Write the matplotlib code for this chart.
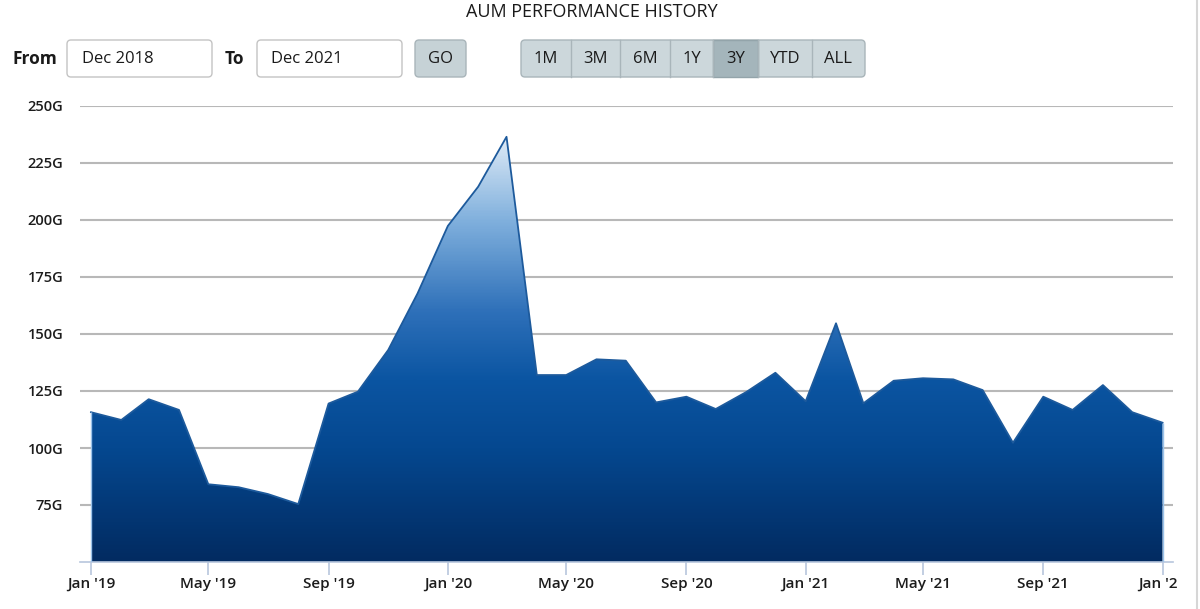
import numpy as np
import pandas as pd
import matplotlib
matplotlib.use("Agg")
import matplotlib.pyplot as plt
import matplotlib.dates as mdates
from matplotlib.patches import FancyBboxPatch, Rectangle
from matplotlib.lines import Line2D
from matplotlib.transforms import IdentityTransform, Bbox
from matplotlib.colors import LinearSegmentedColormap

plt.rcParams['font.family'] = ['Open Sans', 'DejaVu Sans']

# ---------------- data ----------------
months = pd.date_range('2019-01-01', periods=37, freq='MS')
aum_values = [115.7, 112.3, 121.4, 116.7, 84.1, 82.8, 79.8, 75.4, 119.5, 124.7,
              143.0, 167.8, 197.4, 214.6, 236.5, 132.0, 132.0, 138.9, 138.3, 120.0,
              122.5, 117.1, 124.5, 133.0, 120.5, 154.7, 119.6, 129.5, 130.6, 130.1,
              125.4, 102.3, 122.5, 116.7, 127.6, 115.7, 111.1]
y_ticks = [75, 100, 125, 150, 175, 200, 225, 250]
y_tick_labels = ['75G', '100G', '125G', '150G', '175G', '200G', '225G', '250G']
x_tick_dates = ['2019-01-01', '2019-05-01', '2019-09-01', '2020-01-01', '2020-05-01',
                '2020-09-01', '2021-01-01', '2021-05-01', '2021-09-01', '2022-01-01']
x_tick_labels = ["Jan '19", "May '19", "Sep '19", "Jan '20", "May '20",
                 "Sep '20", "Jan '21", "May '21", "Sep '21", "Jan '22"]
title = "AUM PERFORMANCE HISTORY"
from_label, to_label = "From", "To"
from_value, to_value = "Dec 2018", "Dec 2021"
go_label = "GO"
range_buttons = ['1M', '3M', '6M', '1Y', '3Y', 'YTD', 'ALL']
selected_range = '3Y'

W, H = 1200, 609
fig = plt.figure(figsize=(W / 100, H / 100), dpi=100)
fig.patch.set_facecolor('white')

def fx(x):
    return x / W

def fy(y):
    return 1 - y / H

# ---------------- axes ----------------
ax_left, ax_right, ax_top, ax_bottom = 80, 1173, 106, 562
ax = fig.add_axes([fx(ax_left), fy(ax_bottom), (ax_right - ax_left) / W, (ax_bottom - ax_top) / H])
xnum = mdates.date2num(months.to_pydatetime())
vals = np.array(aum_values)
span_days = xnum[-1] - xnum[0]
pad = span_days / (1163 - 91) * 11
ax.set_xlim(xnum[0] - pad, xnum[-1] + pad * 0.95)
ax.set_ylim(50, 250)

for s in ['top', 'right', 'left']:
    ax.spines[s].set_visible(False)
ax.spines['bottom'].set_color('#b7c6dd')
ax.spines['bottom'].set_linewidth(1.2)

ax.set_yticks(y_ticks)
ax.set_yticklabels(y_tick_labels)
ax.yaxis.grid(True, color='#b8b8b8', linewidth=1.5)
ax.set_axisbelow(True)
ax.tick_params(axis='y', length=0, pad=12, labelsize=10.5, labelcolor='#1c1c1c')
tick_pos = mdates.date2num(pd.to_datetime(x_tick_dates).to_pydatetime())
ax.set_xticks(tick_pos)
ax.set_xticklabels(x_tick_labels)
ax.tick_params(axis='x', length=9, width=1.2, color='#b7c6dd', pad=2, labelsize=11,
               labelcolor='#1c1c1c')
for lbl in ax.get_xticklabels() + ax.get_yticklabels():
    lbl.set_fontweight('semibold')
# the last label is cut by the page edge in the original
last = ax.get_xticklabels()[-1]
last.set_clip_box(Bbox.from_extents(0, 0, 1177, H))
last.set_clip_on(True)

# gradient fill
poly = ax.fill_between(xnum, vals, 50, facecolor='none', edgecolor='none', zorder=2)
grad_cmap = LinearSegmentedColormap.from_list('aum', [
    (0.0, '#022b61'),
    (0.25, '#054890'),
    (0.40, '#0b55a2'),
    (0.55, '#2e70b9'),
    (0.75, '#80b0dd'),
    (0.935, '#dfebf7'),
    (1.0, '#ffffff')])
grad = np.linspace(0, 1, 400).reshape(-1, 1)
im = ax.imshow(grad, cmap=grad_cmap, aspect='auto', origin='lower',
               extent=[xnum[0], xnum[-1], 50, 250], zorder=2, interpolation='bilinear')
im.set_clip_path(poly.get_paths()[0], transform=ax.transData)
ax.plot(xnum, vals, color='#1d5a9c', linewidth=1.3, zorder=3)
ax.vlines([xnum[0], xnum[-1]], 50, [vals[0], vals[-1]], color='#9cc3ea', linewidth=1.0, zorder=3)

# ---------------- header / controls ----------------
fig.text(fx(592), fy(12), title, ha='center', va='center', fontsize=13, color='#1a1a1a')

ident = IdentityTransform()

def box(x0, y0, x1, y1, face, edge, r=4, lw=1.0):
    p = FancyBboxPatch((x0, H - y1), x1 - x0, y1 - y0,
                       boxstyle=f"round,pad=0,rounding_size={r}",
                       facecolor=face, edgecolor=edge, linewidth=lw, transform=ident)
    fig.add_artist(p)

fig.text(fx(12), fy(59), from_label, ha='left', va='center', fontsize=12.5, fontweight='bold', color='#1a1a1a')
box(67, 40, 212, 77, 'white', '#c4c4c4')
fig.text(fx(82), fy(59), from_value, ha='left', va='center', fontsize=12, color='#1a1a1a')
fig.text(fx(225), fy(59), to_label, ha='left', va='center', fontsize=12.5, fontweight='bold', color='#1a1a1a')
box(257, 40, 402, 77, 'white', '#c4c4c4')
fig.text(fx(271), fy(59), to_value, ha='left', va='center', fontsize=12, color='#1a1a1a')
box(415, 40, 466, 77, '#c6d2d6', '#a9b5ba')
fig.text(fx(440.5), fy(59), go_label, ha='center', va='center', fontsize=12, color='#1a1a1a')

edges = [521, 571, 620, 670, 713, 758, 812, 865]
box(edges[0], 40, edges[-1], 77, '#ccd7db', '#a9b5ba')
for i, lab in enumerate(range_buttons):
    x0, x1 = edges[i], edges[i + 1]
    if lab == selected_range:
        fig.add_artist(Rectangle((x0, H - 77), x1 - x0, 37, facecolor='#a4b5bb',
                                 edgecolor='#93a4aa', linewidth=1.0, transform=ident))
    if i > 0:
        fig.add_artist(Line2D([x0, x0], [H - 77, H - 40], color='#a9b5ba', linewidth=1.0,
                              transform=ident))
    fig.text(fx((x0 + x1) / 2), fy(59), lab, ha='center', va='center', fontsize=12, color='#1a1a1a')

# right border line
fig.add_artist(Line2D([1197, 1197], [0, H], color='#d6d6d6', linewidth=1.5, transform=ident))

fig.savefig('out.png', dpi=100)
